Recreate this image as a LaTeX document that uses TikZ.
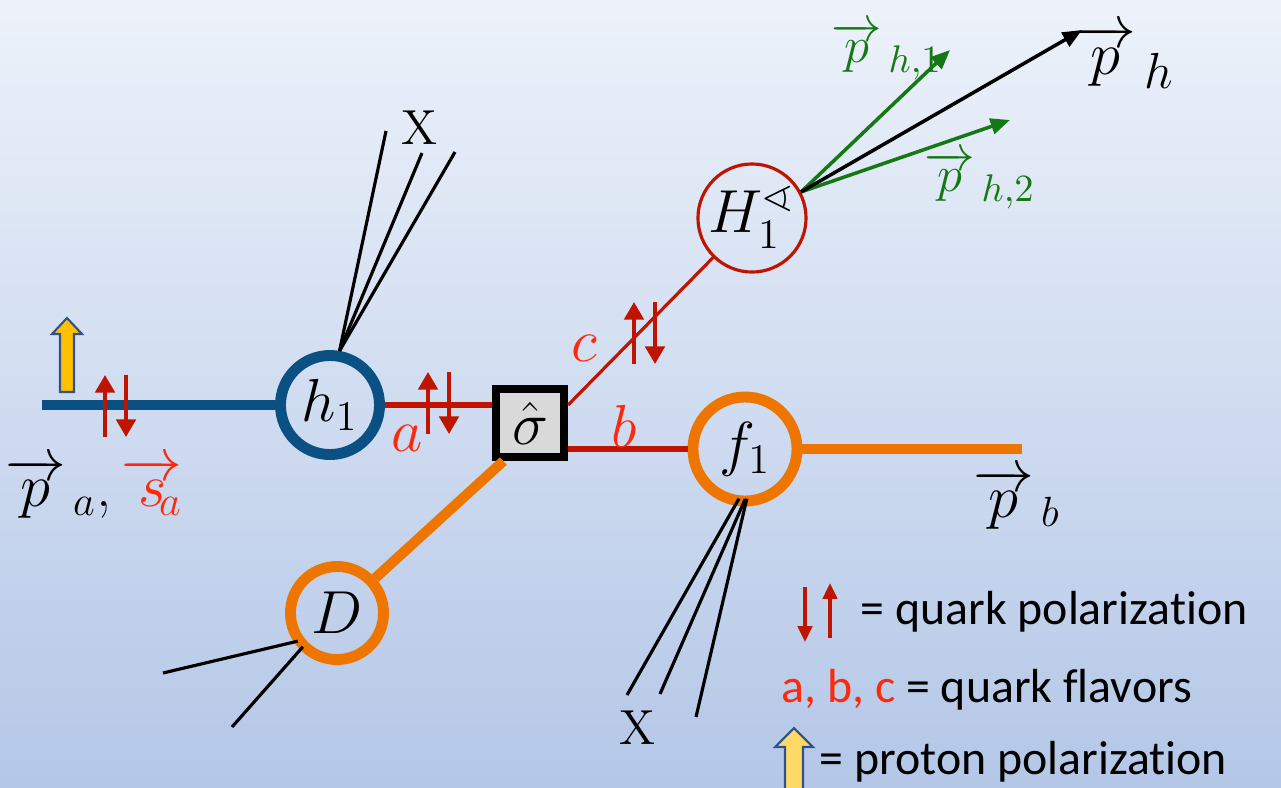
\documentclass[tikz,border=0pt]{standalone}
\usepackage{amsmath}
\usepackage{amssymb}
\usepackage{fontspec}
\newfontfamily\legendfont{Carlito}[Ligatures=NoCommon]
\usetikzlibrary{arrows.meta,positioning,calc}
\definecolor{bgTop}{RGB}{237,242,250}
\definecolor{bgBottom}{RGB}{180,199,231}
\definecolor{hBlue}{RGB}{10,80,130}
\definecolor{fOrange}{RGB}{238,118,0}
\definecolor{quarkRed}{RGB}{190,20,0}
\definecolor{flavRed}{RGB}{255,40,10}
\definecolor{hadGreen}{RGB}{20,120,20}
\definecolor{protYellow}{RGB}{255,192,0}
\definecolor{legYellow}{RGB}{255,217,102}
\definecolor{protBorder}{RGB}{47,82,143}
\tikzset{
  ring/.style={circle, draw=#1, line width=3.1pt, inner sep=0pt,
    font=\fontsize{17.28}{20}\selectfont},
  sigbox/.style={draw=black, fill=black!15, line width=2.3pt, minimum size=0.68cm,
    inner sep=0pt, font=\fontsize{17.28}{20}\selectfont},
  thickline/.style={line width=2.9pt, color=#1},
  quark/.style={line width=1.7pt, color=quarkRed},
  thinquark/.style={line width=0.9pt, color=quarkRed},
  jet/.style={line width=0.9pt, black},
  spin/.style={-{Triangle[length=5pt,width=5.5pt]}, line width=1.1pt, color=quarkRed},
  lspin/.style={-{Triangle[length=4.5pt,width=4pt]}, line width=1.1pt, color=quarkRed},
  mom/.style={-{Triangle[length=5.5pt,width=4.5pt]}, line width=1pt, color=#1},
  flav/.style={text=flavRed, inner sep=0pt, font=\fontsize{17.28}{20}\selectfont},
  lab/.style={inner sep=0pt, font=\fontsize{#1}{20}\selectfont},
  legend/.style={anchor=west, inner sep=0pt, font=\legendfont\fontsize{13.6}{16}\selectfont},
}
% pair of opposite quark spins: x of the up arrow, y of the centre
\newcommand{\spinpair}[2]{%
  \draw[spin] (#1,#2+31) -- (#1,#2-31);
  \draw[spin] (#1+21,#2-31) -- (#1+21,#2+31);}
% block arrow: x, base y, tip y, shaft half, head half, head length, fill
\newcommand{\protonarrow}[7]{%
  \draw[draw=protBorder, fill=#7, line width=0.6pt, line join=miter]
    (#1-#4,#2) -- (#1-#4,#3+#6) -- (#1-#5,#3+#6) -- (#1,#3)
    -- (#1+#5,#3+#6) -- (#1+#4,#3+#6) -- (#1+#4,#2) -- cycle;}

\begin{document}
\begin{tikzpicture}[x=0.01cm, y=-0.01cm]
\clip (0,0) rectangle (1281,787);
\shade[top color=bgTop, bottom color=bgBottom] (0,0) rectangle (1281,787);

%% NODES
\node[ring=hBlue, minimum size=0.99cm] (hOne) at (330,405) {$h_1$};
\node[sigbox] (sigHat) at (530,423) {$\hat{\sigma}$};
\node[ring=quarkRed, line width=0.9pt, minimum size=1.08cm] (HOne) at (752,218)
  {$H_1^{\sphericalangle}$};
\node[ring=fOrange, minimum size=1.04cm] (fOne) at (745,449) {$f_1$};
\node[ring=fOrange, minimum size=0.93cm] (dFrag) at (337,613) {$D$};

\coordinate (beamA) at (42,405);
\coordinate (beamB) at (1022,449);

%% LINES
\draw[thickline=hBlue] (beamA) -- (hOne);
\draw[quark] (hOne) -- (hOne -| sigHat.west);
\draw[quark] (sigHat.east |- fOne) -- (fOne);
\draw[thinquark] (sigHat.east |- hOne) -- (HOne);
\draw[thickline=fOrange] (sigHat.-125) -- (dFrag);
\draw[thickline=fOrange, line width=3.1pt] (fOne) -- (beamB);

% jets
\coordinate (hxA) at (386,131);
\coordinate (hxB) at (422,153);
\coordinate (hxC) at (455,152);
\foreach \c in {hxA,hxB,hxC}
  \draw[jet] (hOne.80) -- (\c);
\coordinate (fxA) at (627,695);
\coordinate (fxB) at (660,694);
\coordinate (fxC) at (696,717);
\draw[jet, shorten <=-0.08cm] (fOne.-100) -- (fxA);
\draw[jet, shorten <=-0.08cm] (fOne.-93) -- (fxB);
\draw[jet, shorten <=-0.08cm] (fOne.-90) -- (fxC);
\coordinate (dxA) at (163,673);
\coordinate (dxB) at (232,727);
\draw[jet, shorten <=-0.04cm] (dFrag.-146) -- (dxA);
\draw[jet, shorten <=-0.04cm] (dFrag.-135) -- (dxB);

% hadron momenta
\coordinate (phOne) at (950,50);
\coordinate (phAll) at (1082,30);
\coordinate (phTwo) at (1010,120);
\draw[mom=hadGreen] (HOne.28) -- (phOne);
\draw[mom=hadGreen] (HOne.28) -- (phTwo);
\draw[mom=black] (HOne.28) -- (phAll);

% spins
\spinpair{105}{406}
\spinpair{428}{403}
\spinpair{634}{333}
\protonarrow{67}{392}{318}{7}{15}{16}{protYellow}

%% LABELS
\node (xTop) at (420,128) {\fontsize{14}{16}\selectfont X};
\node (xBot) at (638,728) {\fontsize{14}{16}\selectfont X};
\node[flav] (aLab) at (407,438) {$a$};
\node[flav] (bLab) at (624,426) {$b$};
\node[flav] (cLab) at (584,348) {$c$};
\node[lab=17.28] (paLab) at (94,488)
  {$\overrightarrow{p}_{\,a}$,\,\textcolor{flavRed}{$\overrightarrow{s}\mkern-7mu{}_{a}$}};
\node[lab=17.28] (pbLab) at (1017,499) {$\overrightarrow{p}_{\,b}$};
\node[lab=19] (phLab) at (1125,57) {$\overrightarrow{p}_{\,h}$};
\node[lab=15] (ph1Lab) at (887,51) {\color{hadGreen}$\overrightarrow{p}_{\,h,1}$};
\node[lab=15] (ph2Lab) at (980,180) {\color{hadGreen}$\overrightarrow{p}_{\,h,2}$};

%% LEGEND
\draw[lspin] (805,587) -- (805,642);
\draw[lspin] (830,638) -- (830,583);
\node[legend] (lgQuark) at (860,612) {= quark polarization};
\node[legend] (lgFlav) at (781,690) {\textcolor{flavRed}{a, b, c} = quark flavors};
\protonarrow{794}{800}{728}{9}{19}{19}{legYellow}
\node[legend] (lgProt) at (819,762) {= proton polarization};
\end{tikzpicture}
\end{document}
